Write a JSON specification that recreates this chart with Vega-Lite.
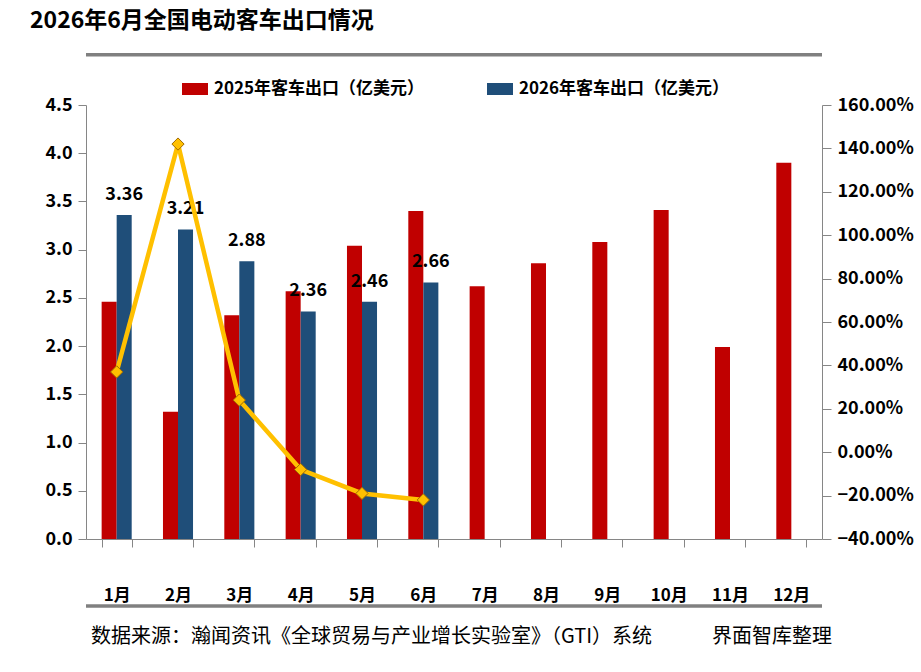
{
  "$schema": "https://vega.github.io/schema/vega-lite/v6.json",
  "width": 736,
  "height": 434,
  "autosize": {"type": "none"},
  "padding": {"left": 86, "top": 105, "right": 99, "bottom": 133},
  "background": "white",
  "title": {
    "text": "2026年6月全国电动客车出口情况",
    "anchor": "start",
    "frame": "group",
    "dx": -56,
    "offset": 20,
    "font": "Noto Sans CJK SC",
    "fontSize": 23,
    "fontWeight": "bold",
    "color": "#000000"
  },
  "datasets": {
    "exports": [
      {"month": "1月", "series": "2025年客车出口（亿美元）", "value": 2.46},
      {"month": "2月", "series": "2025年客车出口（亿美元）", "value": 1.32},
      {"month": "3月", "series": "2025年客车出口（亿美元）", "value": 2.32},
      {"month": "4月", "series": "2025年客车出口（亿美元）", "value": 2.57},
      {"month": "5月", "series": "2025年客车出口（亿美元）", "value": 3.04},
      {"month": "6月", "series": "2025年客车出口（亿美元）", "value": 3.40},
      {"month": "7月", "series": "2025年客车出口（亿美元）", "value": 2.62},
      {"month": "8月", "series": "2025年客车出口（亿美元）", "value": 2.86},
      {"month": "9月", "series": "2025年客车出口（亿美元）", "value": 3.08},
      {"month": "10月", "series": "2025年客车出口（亿美元）", "value": 3.41},
      {"month": "11月", "series": "2025年客车出口（亿美元）", "value": 1.99},
      {"month": "12月", "series": "2025年客车出口（亿美元）", "value": 3.90},
      {"month": "1月", "series": "2026年客车出口（亿美元）", "value": 3.36},
      {"month": "2月", "series": "2026年客车出口（亿美元）", "value": 3.21},
      {"month": "3月", "series": "2026年客车出口（亿美元）", "value": 2.88},
      {"month": "4月", "series": "2026年客车出口（亿美元）", "value": 2.36},
      {"month": "5月", "series": "2026年客车出口（亿美元）", "value": 2.46},
      {"month": "6月", "series": "2026年客车出口（亿美元）", "value": 2.66}
    ],
    "growth": [
      {"month": "1月", "growth": 0.37},
      {"month": "2月", "growth": 1.42},
      {"month": "3月", "growth": 0.24},
      {"month": "4月", "growth": -0.08},
      {"month": "5月", "growth": -0.19},
      {"month": "6月", "growth": -0.22}
    ],
    "lines": [
      {"value": 5.02},
      {"value": -0.695}
    ]
  },
  "layer": [
    {
      "layer": [
        {
          "data": {"name": "exports"},
          "mark": {"type": "bar"},
          "encoding": {
            "x": {
              "field": "month",
              "type": "ordinal",
              "sort": ["1月", "2月", "3月", "4月", "5月", "6月", "7月", "8月", "9月", "10月", "11月", "12月"],
              "scale": {"paddingInner": 0.51, "paddingOuter": 0.255},
              "axis": {
                "title": "数据来源：瀚闻资讯《全球贸易与产业增长实验室》（GTI）系统　　　界面智库整理",
                "titleFont": "Noto Sans CJK SC",
                "titleFontSize": 20,
                "titleFontWeight": "normal",
                "titleColor": "#000000",
                "titlePadding": 23,
                "titleX": 375,
                "labelAngle": 0,
                "labelFont": "Noto Sans CJK SC",
                "labelFontSize": 17,
                "labelFontWeight": "bold",
                "labelColor": "#000000",
                "labelPadding": 40,
                "tickBand": "extent",
                "tickSize": 8,
                "tickColor": "#868686",
                "domainColor": "#868686",
                "grid": false
              }
            },
            "xOffset": {
              "field": "series",
              "type": "nominal",
              "scale": {"domain": ["2025年客车出口（亿美元）", "2026年客车出口（亿美元）"], "paddingInner": 0}
            },
            "y": {
              "field": "value",
              "type": "quantitative",
              "scale": {"domain": [0, 4.5], "nice": false},
              "axis": {
                "title": null,
                "values": [0, 0.5, 1, 1.5, 2, 2.5, 3, 3.5, 4, 4.5],
                "format": ".1f",
                "grid": false,
                "labelFont": "Noto Sans CJK SC",
                "labelFontSize": 18,
                "labelFontWeight": "bold",
                "labelColor": "#000000",
                "labelPadding": 6,
                "tickSize": 8,
                "tickColor": "#868686",
                "domainColor": "#868686"
              }
            },
            "color": {
              "field": "series",
              "type": "nominal",
              "scale": {
                "domain": ["2025年客车出口（亿美元）", "2026年客车出口（亿美元）"],
                "range": ["#C00000", "#1F4E79"]
              },
              "legend": {
                "title": null,
                "orient": "none",
                "legendX": 96,
                "legendY": -29,
                "direction": "horizontal",
                "symbolType": "M-1,-0.46H1V0.46H-1Z",
                "symbolSize": 676,
                "symbolStrokeWidth": 0,
                "labelFont": "Noto Sans CJK SC",
                "labelFontSize": 17,
                "labelFontWeight": "bold",
                "labelColor": "#000000",
                "labelOffset": 6,
                "labelLimit": 400,
                "columnPadding": 62
              }
            }
          }
        },
        {
          "data": {"name": "exports"},
          "transform": [{"filter": "datum.series === '2026年客车出口（亿美元）'"}],
          "mark": {
            "type": "text",
            "baseline": "bottom",
            "align": "center",
            "dy": -11,
            "font": "Noto Sans CJK SC",
            "fontSize": 18,
            "fontWeight": "bold",
            "color": "#000000"
          },
          "encoding": {
            "x": {"field": "month", "type": "ordinal", "sort": ["1月", "2月", "3月", "4月", "5月", "6月", "7月", "8月", "9月", "10月", "11月", "12月"]},
            "xOffset": {
              "field": "series",
              "type": "nominal",
              "scale": {"domain": ["2025年客车出口（亿美元）", "2026年客车出口（亿美元）"], "paddingInner": 0}
            },
            "y": {"field": "value", "type": "quantitative"},
            "text": {"field": "value", "type": "quantitative", "format": ".2f"}
          }
        },
        {
          "data": {"name": "lines"},
          "mark": {"type": "rule", "color": "#808080", "strokeWidth": 3.5},
          "encoding": {
            "y": {"field": "value", "type": "quantitative"}
          }
        }
      ]
    },
    {
      "data": {"name": "growth"},
      "layer": [
        {
          "mark": {"type": "line", "color": "#FFC000", "strokeWidth": 4.5, "interpolate": "linear"},
          "encoding": {
            "x": {"field": "month", "type": "ordinal", "sort": ["1月", "2月", "3月", "4月", "5月", "6月", "7月", "8月", "9月", "10月", "11月", "12月"]},
            "y": {
              "field": "growth",
              "type": "quantitative",
              "scale": {"domain": [-0.4, 1.6], "nice": false},
              "axis": {
                "orient": "right",
                "title": null,
                "values": [-0.4, -0.2, 0, 0.2, 0.4, 0.6, 0.8, 1.0, 1.2, 1.4, 1.6],
                "format": ".2%",
                "grid": false,
                "labelFont": "Noto Sans CJK SC",
                "labelFontSize": 18,
                "labelFontWeight": "bold",
                "labelColor": "#000000",
                "labelPadding": 6,
                "tickSize": 9,
                "tickColor": "#868686",
                "domainColor": "#868686"
              }
            }
          }
        },
        {
          "mark": {"type": "point", "shape": "diamond", "filled": true, "size": 150, "fill": "#FFC000", "stroke": "#A06A00", "strokeWidth": 1, "opacity": 1},
          "encoding": {
            "x": {"field": "month", "type": "ordinal", "sort": ["1月", "2月", "3月", "4月", "5月", "6月", "7月", "8月", "9月", "10月", "11月", "12月"]},
            "y": {"field": "growth", "type": "quantitative"}
          }
        }
      ]
    }
  ],
  "resolve": {"scale": {"y": "independent"}},
  "config": {
    "view": {"stroke": null}
  }
}
